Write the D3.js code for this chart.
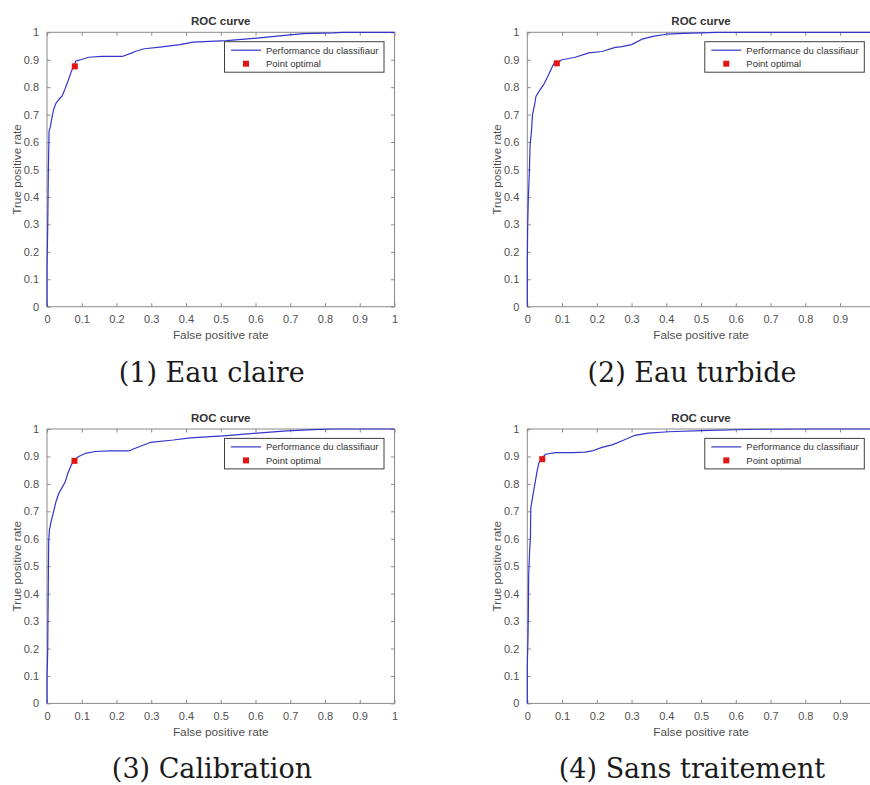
<!DOCTYPE html>
<html><head><meta charset="utf-8">
<script src="https://cdn.jsdelivr.net/npm/d3@7/dist/d3.min.js"></script>
<style>body{margin:0;background:#fff}svg{display:block}</style>
</head><body><svg id="chart" width="870" height="785"></svg>
<script>
// ---------- data ----------
const tickValues = [0, 0.1, 0.2, 0.3, 0.4, 0.5, 0.6, 0.7, 0.8, 0.9, 1];
const tickLabels = ["0", "0.1", "0.2", "0.3", "0.4", "0.5", "0.6", "0.7", "0.8", "0.9", "1"];
const titleText = "ROC curve";
const xLabelText = "False positive rate";
const yLabelText = "True positive rate";
const legendLabels = ["Performance du classifiaur", "Point optimal"];
const captions = ["(1) Eau claire", "(2) Eau turbide", "(3) Calibration", "(4) Sans traitement"];

const fpr1 = [0, 0, 0.002, 0.004, 0.006, 0.010, 0.014, 0.019, 0.026, 0.034, 0.043, 0.051, 0.060, 0.067, 0.072, 0.079, 0.082, 0.096, 0.120, 0.158, 0.216, 0.245, 0.253, 0.280, 0.325, 0.383, 0.420, 0.517, 0.594, 0.670, 0.737, 0.824, 0.850, 1];
const tpr1 = [0, 0.140, 0.286, 0.505, 0.639, 0.657, 0.688, 0.718, 0.742, 0.755, 0.767, 0.791, 0.821, 0.846, 0.864, 0.878, 0.894, 0.900, 0.909, 0.912, 0.912, 0.925, 0.930, 0.940, 0.946, 0.955, 0.964, 0.970, 0.978, 0.987, 0.995, 0.998, 1.000, 1];

const fpr2 = [0, 0, 0.001, 0.003, 0.006, 0.008, 0.012, 0.015, 0.021, 0.025, 0.037, 0.047, 0.057, 0.066, 0.076, 0.085, 0.100, 0.138, 0.177, 0.215, 0.253, 0.273, 0.300, 0.330, 0.365, 0.400, 0.450, 0.550, 1];
const tpr2 = [0, 0.165, 0.287, 0.396, 0.493, 0.590, 0.639, 0.700, 0.736, 0.767, 0.791, 0.809, 0.834, 0.858, 0.885, 0.888, 0.900, 0.909, 0.925, 0.930, 0.945, 0.948, 0.955, 0.975, 0.986, 0.993, 0.996, 1.000, 1];

const fpr3 = [0, 0, 0.002, 0.003, 0.004, 0.005, 0.007, 0.012, 0.019, 0.026, 0.034, 0.045, 0.053, 0.060, 0.070, 0.079, 0.091, 0.110, 0.139, 0.178, 0.235, 0.254, 0.297, 0.364, 0.412, 0.517, 0.594, 0.690, 0.767, 0.824, 1];
const tpr3 = [0, 0.092, 0.190, 0.335, 0.469, 0.596, 0.632, 0.663, 0.699, 0.736, 0.766, 0.790, 0.809, 0.839, 0.869, 0.887, 0.900, 0.911, 0.918, 0.920, 0.920, 0.930, 0.951, 0.960, 0.968, 0.976, 0.984, 0.993, 0.998, 1.000, 1];

const fpr4 = [0, 0, 0.002, 0.003, 0.004, 0.007, 0.009, 0.010, 0.013, 0.018, 0.023, 0.028, 0.033, 0.042, 0.052, 0.081, 0.129, 0.167, 0.186, 0.215, 0.244, 0.273, 0.310, 0.348, 0.406, 0.500, 0.655, 0.830, 1];
const tpr4 = [0, 0.140, 0.237, 0.322, 0.468, 0.565, 0.602, 0.711, 0.735, 0.772, 0.808, 0.845, 0.875, 0.893, 0.908, 0.914, 0.914, 0.916, 0.920, 0.933, 0.942, 0.957, 0.977, 0.985, 0.990, 0.994, 0.999, 1.000, 1];

const optimalFpr = [0.080, 0.085, 0.079, 0.043];
const optimalTpr = [0.876, 0.887, 0.884, 0.890];

// ---------- layout ----------
const fprs = [fpr1, fpr2, fpr3, fpr4];
const tprs = [tpr1, tpr2, tpr3, tpr4];
const panels = [
  {left: 47,    top: 32.3, capX: 211.7, capY: 381.7},
  {left: 527.3, top: 32.3, capX: 692,   capY: 381.7},
  {left: 47,    top: 429,  capX: 212,   capY: 777.7},
  {left: 527.3, top: 429,  capX: 692,   capY: 777.7}
];
const PW = 347.5, PH = 274.4;
const W = 870;
const axisColor = "#8a8a8a", textColor = "#505050";
const sans = "'Liberation Sans', Arial, sans-serif";

const svg = d3.select("#chart");

panels.forEach((p, i) => {
  const g = svg.append("g").attr("transform", `translate(${p.left},${p.top})`);
  const x = d3.scaleLinear().domain([0, 1]).range([0, PW]);
  const y = d3.scaleLinear().domain([0, 1]).range([PH, 0]);
  const fmt = d => tickLabels[tickValues.indexOf(d)];

  // box
  g.append("rect").attr("x", 0).attr("y", 0).attr("width", PW).attr("height", PH)
    .attr("fill", "#fff").attr("stroke", axisColor).attr("stroke-width", 1);

  const styleAxis = (sel, showLabels) => {
    sel.select(".domain").remove();
    sel.selectAll(".tick line").attr("stroke", axisColor);
    sel.selectAll(".tick text").attr("fill", textColor).style("font-family", sans).style("font-size", "11px");
    if (!showLabels) sel.selectAll(".tick text").remove();
  };

  const xb = g.append("g").attr("transform", `translate(0,${PH})`)
    .call(d3.axisBottom(x).tickValues(tickValues).tickFormat(fmt).tickSize(-3.5).tickPadding(9))
    .call(s => styleAxis(s, true));
  // labels that fall past the page edge are not visible in the reference
  xb.selectAll(".tick").filter(d => p.left + x(d) + 4 > W).select("text").remove();
  g.append("g")
    .call(d3.axisTop(x).tickValues(tickValues).tickSize(-3.5))
    .call(s => styleAxis(s, false));
  g.append("g")
    .call(d3.axisLeft(y).tickValues(tickValues).tickFormat(fmt).tickSize(-3.5).tickPadding(8))
    .call(s => styleAxis(s, true));
  g.append("g").attr("transform", `translate(${PW},0)`)
    .call(d3.axisRight(y).tickValues(tickValues).tickSize(-3.5))
    .call(s => styleAxis(s, false));

  // curve
  const pts = fprs[i].map((f, k) => [f, tprs[i][k]]);
  g.append("path").datum(pts)
    .attr("d", d3.line().x(d => x(d[0])).y(d => y(d[1])))
    .attr("fill", "none").attr("stroke", "#3535cc").attr("stroke-width", 1.2)
    .attr("stroke-linejoin", "round");

  // optimal point
  g.append("rect")
    .attr("x", x(optimalFpr[i]) - 3).attr("y", y(optimalTpr[i]) - 3)
    .attr("width", 6).attr("height", 6).attr("fill", "#e31414");

  // title
  g.append("text").attr("x", PW / 2).attr("y", -7).attr("text-anchor", "middle")
    .style("font-family", sans).style("font-size", "11.5px").style("font-weight", "bold")
    .attr("fill", "#333").text(titleText);

  // axis labels
  g.append("text").attr("x", PW / 2).attr("y", PH + 32.5).attr("text-anchor", "middle")
    .style("font-family", sans).style("font-size", "11.8px").attr("fill", textColor).text(xLabelText);
  g.append("text").attr("transform", `translate(-30,${PH / 2}) rotate(-90)`)
    .attr("text-anchor", "middle").attr("dominant-baseline", "central")
    .style("font-family", sans).style("font-size", "11.8px").attr("fill", textColor).text(yLabelText);

  // legend
  const lg = g.append("g").attr("transform", `translate(${PW - 170},9.4)`);
  lg.append("rect").attr("x", 0).attr("y", 0).attr("width", 159.5).attr("height", 30.5)
    .attr("fill", "#fff").attr("stroke", "#404040").attr("stroke-width", 1);
  lg.append("line").attr("x1", 6.5).attr("x2", 36.5).attr("y1", 8.5).attr("y2", 8.5)
    .attr("stroke", "#3535cc").attr("stroke-width", 1.2);
  lg.append("rect").attr("x", 21.5 - 3).attr("y", 22 - 3).attr("width", 6).attr("height", 6).attr("fill", "#e31414");
  lg.selectAll("text.lt").data(legendLabels).join("text")
    .attr("x", 41.5).attr("y", (d, k) => k === 0 ? 8.5 : 22)
    .attr("dominant-baseline", "central")
    .style("font-family", sans).style("font-size", "9.5px").attr("fill", "#333").text(d => d);

  // caption
  svg.append("text").attr("x", p.capX).attr("y", p.capY).attr("text-anchor", "middle")
    .style("font-family", "'DejaVu Serif', serif").style("font-size", "27px").attr("fill", "#1a1a1a")
    .text(captions[i]);
});
</script></body></html>
